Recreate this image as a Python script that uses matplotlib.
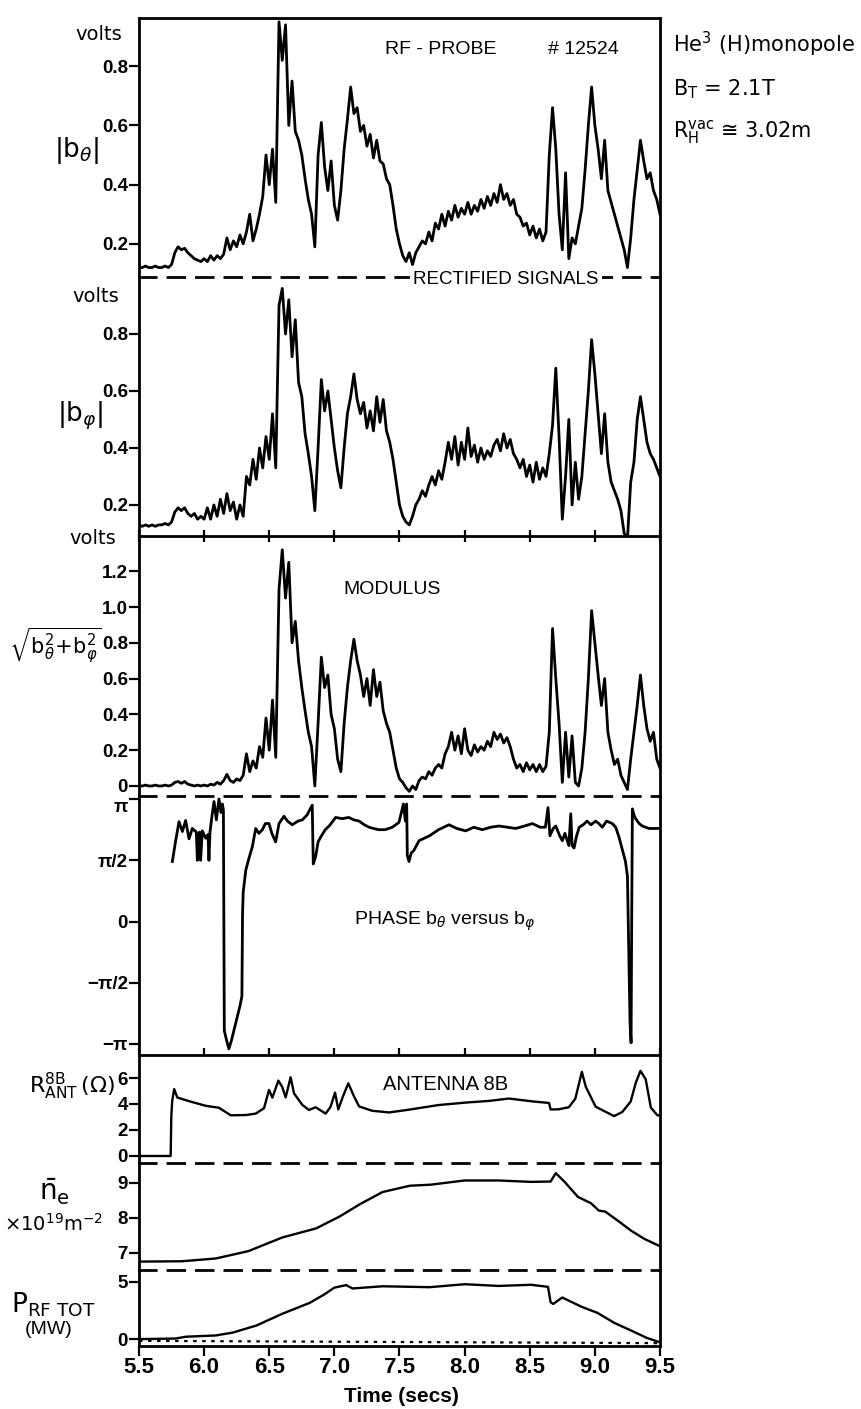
import numpy as np
import matplotlib
matplotlib.use('Agg')
import matplotlib.pyplot as plt

plt.rcParams['font.family'] = ['Liberation Sans', 'DejaVu Sans']
plt.rcParams['mathtext.fontset'] = 'dejavusans'
plt.rcParams['lines.scale_dashes'] = False

# rectified probe signals, one sample every 25 ms from 5.5 s to 9.5 s
t = np.linspace(5.5, 9.5, 161)

b_theta = [0.12, 0.12, 0.125, 0.12, 0.12, 0.125, 0.12, 0.12, 0.125, 0.12,
           0.13, 0.17, 0.19, 0.18, 0.185, 0.17, 0.16, 0.15, 0.145, 0.14,
           0.15, 0.14, 0.16, 0.145, 0.16, 0.15, 0.165, 0.22, 0.18, 0.21,
           0.19, 0.23, 0.2, 0.24, 0.3, 0.21, 0.25, 0.3, 0.36, 0.5,
           0.4, 0.52, 0.34, 0.95, 0.82, 0.94, 0.6, 0.75, 0.58, 0.55,
           0.5, 0.42, 0.35, 0.3, 0.19, 0.5, 0.61, 0.46, 0.38, 0.48,
           0.33, 0.28, 0.38, 0.52, 0.62, 0.73, 0.64, 0.66, 0.58, 0.6,
           0.53, 0.57, 0.49, 0.55, 0.48, 0.47, 0.42, 0.4, 0.33, 0.25,
           0.2, 0.16, 0.14, 0.17, 0.13, 0.17, 0.19, 0.21, 0.2, 0.24,
           0.21, 0.27, 0.25, 0.3, 0.26, 0.31, 0.28, 0.33, 0.29, 0.32,
           0.3, 0.34, 0.3, 0.33, 0.31, 0.35, 0.32, 0.36, 0.33, 0.37,
           0.34, 0.4, 0.35, 0.37, 0.33, 0.35, 0.3, 0.29, 0.26, 0.27,
           0.23, 0.26, 0.22, 0.25, 0.21, 0.24, 0.5, 0.66, 0.52, 0.3,
           0.18, 0.44, 0.15, 0.22, 0.2, 0.26, 0.32, 0.45, 0.6, 0.73,
           0.6, 0.52, 0.42, 0.55, 0.38, 0.34, 0.3, 0.26, 0.22, 0.18,
           0.12, 0.22, 0.35, 0.45, 0.55, 0.48, 0.42, 0.44, 0.38, 0.35, 0.3]

b_phi = [0.13, 0.125, 0.13, 0.125, 0.13, 0.125, 0.13, 0.13, 0.135, 0.13,
         0.14, 0.175, 0.19, 0.18, 0.19, 0.17, 0.16, 0.17, 0.15, 0.16,
         0.15, 0.19, 0.15, 0.2, 0.16, 0.22, 0.17, 0.24, 0.18, 0.21,
         0.15, 0.2, 0.16, 0.3, 0.27, 0.36, 0.29, 0.4, 0.33, 0.44,
         0.36, 0.52, 0.33, 0.9, 0.96, 0.8, 0.92, 0.72, 0.85, 0.63,
         0.58, 0.45, 0.38, 0.3, 0.18, 0.4, 0.64, 0.53, 0.6, 0.5,
         0.4, 0.32, 0.26, 0.4, 0.52, 0.58, 0.66, 0.57, 0.52, 0.56,
         0.47, 0.53, 0.46, 0.58, 0.49, 0.57, 0.46, 0.42, 0.36, 0.28,
         0.2, 0.16, 0.14, 0.13, 0.16, 0.2, 0.22, 0.25, 0.23, 0.27,
         0.3, 0.27, 0.32, 0.29, 0.35, 0.42, 0.36, 0.44, 0.34, 0.42,
         0.36, 0.47, 0.37, 0.41, 0.35, 0.4, 0.36, 0.39, 0.37, 0.41,
         0.43, 0.39, 0.45, 0.4, 0.43, 0.38, 0.36, 0.33, 0.36, 0.3,
         0.34, 0.28, 0.35, 0.29, 0.33, 0.3, 0.38, 0.48, 0.68, 0.44,
         0.15, 0.3, 0.5, 0.2, 0.35, 0.22, 0.3, 0.45, 0.6, 0.78,
         0.66, 0.52, 0.38, 0.52, 0.35, 0.28, 0.25, 0.22, 0.18, 0.1,
         0.08, 0.28, 0.35, 0.5, 0.58, 0.5, 0.42, 0.38, 0.36, 0.33, 0.3]

modulus = [0.0, 0.0, 0.005, 0.0, 0.0, 0.005, 0.0, 0.0, 0.005, 0.0,
           0.005, 0.02, 0.025, 0.015, 0.025, 0.01, 0.005, 0.0, 0.005, 0.0,
           0.005, 0.0, 0.01, 0.005, 0.02, 0.01, 0.03, 0.065, 0.03, 0.02,
           0.04, 0.03, 0.06, 0.18, 0.08, 0.14, 0.1, 0.22, 0.16, 0.38,
           0.2, 0.48, 0.16, 1.1, 1.32, 1.05, 1.25, 0.8, 0.92, 0.7,
           0.55, 0.42, 0.3, 0.22, 0.0, 0.35, 0.72, 0.55, 0.62, 0.4,
           0.32, 0.15, 0.08, 0.35, 0.55, 0.7, 0.82, 0.7, 0.62, 0.5,
           0.6, 0.45, 0.65, 0.5, 0.58, 0.42, 0.35, 0.3, 0.2, 0.1,
           0.04, 0.02, -0.01, -0.03, 0.0, -0.02, 0.03, 0.05, 0.04, 0.08,
           0.06, 0.1, 0.12, 0.1, 0.18, 0.22, 0.3, 0.2, 0.28, 0.18,
           0.32, 0.2, 0.17, 0.23, 0.19, 0.22, 0.2, 0.25, 0.22, 0.3,
           0.26, 0.29, 0.24, 0.27, 0.22, 0.15, 0.1, 0.12, 0.08, 0.13,
           0.09, 0.12, 0.08, 0.12, 0.08, 0.11, 0.3, 0.88, 0.6, 0.35,
           0.02, 0.3, 0.05, 0.28, 0.02, 0.0, 0.1, 0.3, 0.6, 0.98,
           0.8, 0.62, 0.45, 0.6, 0.3, 0.2, 0.12, 0.15, 0.06, 0.02,
           -0.02, 0.15, 0.3, 0.45, 0.62, 0.45, 0.32, 0.25, 0.3, 0.15, 0.1]

# phase of b_theta versus b_phi, in units of pi
phase_t = [5.756, 5.78, 5.807, 5.833, 5.858, 5.884, 5.909, 5.94, 5.948, 5.956,
           5.965, 5.973, 5.986, 6.012, 6.03, 6.037, 6.045, 6.06, 6.076, 6.094,
           6.114, 6.13, 6.14, 6.148, 6.155, 6.17, 6.19, 6.21, 6.24, 6.275,
           6.29, 6.295, 6.30, 6.32, 6.345, 6.37, 6.396, 6.42, 6.447, 6.47,
           6.498, 6.52, 6.549, 6.575, 6.613, 6.64, 6.677, 6.72, 6.754, 6.79,
           6.83, 6.838, 6.856, 6.875, 6.895, 6.93, 6.96, 7.01, 7.06, 7.11,
           7.15, 7.19, 7.23, 7.266, 7.30, 7.34, 7.39, 7.445, 7.496, 7.53,
           7.545, 7.555, 7.56, 7.573, 7.59, 7.61, 7.65, 7.69, 7.73, 7.80,
           7.88, 7.94, 8.008, 8.07, 8.136, 8.20, 8.264, 8.33, 8.392, 8.46,
           8.52, 8.58, 8.62, 8.64, 8.655, 8.68, 8.70, 8.73, 8.75, 8.77,
           8.80, 8.815, 8.825, 8.84, 8.86, 8.88, 8.91, 8.94, 8.97, 9.006,
           9.03, 9.057, 9.09, 9.134, 9.16, 9.185, 9.21, 9.235, 9.25, 9.26,
           9.27, 9.278, 9.283, 9.288, 9.30, 9.313, 9.34, 9.364, 9.415, 9.45,
           9.5]
phase_pi = [0.49, 0.65, 0.815, 0.735, 0.825, 0.675, 0.76, 0.73, 0.5, 0.71,
            0.73, 0.5, 0.74, 0.68, 0.71, 0.5, 0.73, 0.86, 0.98, 0.83,
            1.0, 0.89, 0.96, 0.91, -0.89, -0.96, -1.04, -0.97, -0.84, -0.69,
            -0.61, 0.06, 0.24, 0.42, 0.52, 0.61, 0.76, 0.72, 0.75, 0.8,
            0.8, 0.72, 0.65, 0.8, 0.86, 0.82, 0.79, 0.82, 0.83, 0.87,
            0.95, 0.47, 0.53, 0.65, 0.69, 0.75, 0.78, 0.85, 0.84, 0.85,
            0.83, 0.82, 0.79, 0.77, 0.76, 0.75, 0.75, 0.77, 0.81, 0.96,
            0.82, 0.96, 0.54, 0.49, 0.56, 0.58, 0.66, 0.68, 0.7, 0.75,
            0.79, 0.76, 0.74, 0.77, 0.75, 0.77, 0.78, 0.77, 0.76, 0.78,
            0.8, 0.77, 0.77, 0.93, 0.7, 0.76, 0.78, 0.7, 0.66, 0.72,
            0.62, 0.88, 0.62, 0.6, 0.7, 0.77, 0.79, 0.82, 0.79, 0.82,
            0.8, 0.77, 0.82, 0.8, 0.77, 0.69, 0.59, 0.49, 0.37, -0.23,
            -0.83, -0.99, 0.07, 0.92, 0.87, 0.84, 0.8, 0.78, 0.76, 0.76,
            0.76]

# antenna 8B resistance (ohm)
r_ant_t = [5.5, 5.743, 5.748, 5.755, 5.77, 5.794, 5.884, 6.012, 6.114, 6.204,
           6.32, 6.396, 6.46, 6.498, 6.524, 6.57, 6.6, 6.626, 6.664, 6.69,
           6.754, 6.805, 6.856, 6.933, 6.97, 7.005, 7.03, 7.066, 7.107, 7.15,
           7.19, 7.29, 7.42, 7.55, 7.8, 8.01, 8.19, 8.34, 8.52, 8.648,
           8.66, 8.72, 8.8, 8.85, 8.9, 8.93, 9.006, 9.11, 9.147, 9.21,
           9.275, 9.313, 9.35, 9.39, 9.43, 9.48, 9.5]
r_ant = [0.0, 0.0, 3.05, 4.25, 5.15, 4.5, 4.22, 3.86, 3.71, 3.13,
         3.15, 3.26, 3.68, 5.08, 4.49, 5.8, 5.3, 4.51, 6.06, 4.82,
         3.93, 3.54, 3.75, 3.26, 3.77, 4.88, 3.58, 4.59, 5.59, 4.6,
         3.81, 3.48, 3.35, 3.53, 3.92, 4.11, 4.24, 4.42, 4.2, 4.08,
         3.58, 3.59, 3.75, 4.41, 6.47, 5.33, 3.79, 3.26, 3.07, 3.38,
         4.19, 5.6, 6.55, 5.91, 3.72, 3.13, 3.13]

# line averaged density (10^19 m^-2)
ne_t = [5.5, 5.83, 6.09, 6.34, 6.6, 6.86, 7.04, 7.2, 7.37, 7.58,
        7.74, 8.0, 8.26, 8.51, 8.66, 8.7, 8.77, 8.87, 8.97, 9.03,
        9.08, 9.18, 9.28, 9.38, 9.5]
ne = [6.75, 6.76, 6.84, 7.05, 7.44, 7.70, 8.04, 8.40, 8.74, 8.92,
      8.95, 9.07, 9.07, 9.03, 9.04, 9.28, 9.02, 8.6, 8.42, 8.21,
      8.18, 7.91, 7.63, 7.40, 7.19]

# total RF power (MW) and the zero trace under it
prf_t = [5.5, 5.78, 5.86, 6.09, 6.22, 6.4, 6.6, 6.81, 6.92, 7.0,
         7.09, 7.14, 7.37, 7.73, 8.0, 8.26, 8.51, 8.64, 8.66, 8.68,
         8.75, 8.9, 9.02, 9.15, 9.28, 9.4, 9.48, 9.5]
prf = [0.0, 0.05, 0.21, 0.32, 0.57, 1.18, 2.21, 3.16, 3.88, 4.49,
       4.71, 4.42, 4.61, 4.53, 4.79, 4.64, 4.74, 4.56, 3.22, 3.07,
       3.63, 2.81, 2.29, 1.41, 0.74, 0.1, -0.2, -0.3]
prf_zero_t = [5.5, 9.5]
prf_zero = [-0.15, -0.35]

time_ticks = [5.5, 6.0, 6.5, 7.0, 7.5, 8.0, 8.5, 9.0, 9.5]
time_labels = ['5.5', '6.0', '6.5', '7.0', '7.5', '8.0', '8.5', '9.0', '9.5']
volt_ticks = [0.2, 0.4, 0.6, 0.8]
volt_labels = ['0.2', '0.4', '0.6', '0.8']
mod_ticks = [0, 0.2, 0.4, 0.6, 0.8, 1.0, 1.2]
mod_labels = ['0', '0.2', '0.4', '0.6', '0.8', '1.0', '1.2']
phase_ticks = [1, 0.5, 0, -0.5, -1]
phase_labels = ['π', 'π/2', '0', '−π/2', '−π']
r_ticks = [0, 2, 4, 6]
ne_ticks = [7, 8, 9]
prf_ticks = [0, 5]

W, H = 862, 1409
fig = plt.figure(figsize=(W / 100, H / 100), dpi=100)


def panel(top, bottom):
    ax = fig.add_axes([139 / W, 1 - bottom / H, 521 / W, (bottom - top) / H])
    ax.patch.set_visible(False)
    for s in ax.spines.values():
        s.set_linewidth(2)
    ax.spines['top'].set_visible(False)
    ax.set_xlim(5.5, 9.5)
    ax.set_xticks(time_ticks)
    ax.tick_params(axis='y', direction='out', length=7, width=1.6, pad=1,
                   labelsize=13.5)
    ax.tick_params(axis='x', bottom=False, labelbottom=False)
    return ax


def dashed_bottom(ax):
    ax.spines['bottom'].set_linestyle((0, (12, 8.5)))


def ticklabels_bold(ax):
    for lab in ax.get_yticklabels():
        lab.set_fontweight('bold')


def label(x, y, s, **kw):
    kw.setdefault('ha', 'center')
    kw.setdefault('va', 'center')
    return fig.text(x / W, 1 - y / H, s, **kw)


# |b_theta|
ax1 = panel(18, 277)
ax1.spines['top'].set_visible(True)
dashed_bottom(ax1)
ax1.plot(t, b_theta, color='k', lw=2)
ax1.set_ylim(0.088, 0.963)
ax1.set_yticks(volt_ticks, labels=volt_labels)
ticklabels_bold(ax1)

# |b_phi|
ax2 = panel(277, 536)
ax2.plot(t, b_phi, color='k', lw=2)
ax2.set_ylim(0.091, 1.0)
ax2.set_yticks(volt_ticks, labels=volt_labels)
ax2.tick_params(axis='x', bottom=True, direction='inout', length=9, width=1.6)
ticklabels_bold(ax2)

# modulus
ax3 = panel(536, 796)
dashed_bottom(ax3)
ax3.plot(t, modulus, color='k', lw=2)
ax3.set_ylim(-0.056, 1.397)
ax3.set_yticks(mod_ticks, labels=mod_labels)
ticklabels_bold(ax3)

# phase
ax4 = panel(796, 1055)
ax4.plot(phase_t, np.array(phase_pi) * np.pi, color='k', lw=2)
ax4.set_ylim(-1.09 * np.pi, 1.025 * np.pi)
ax4.set_yticks(np.array(phase_ticks) * np.pi, labels=phase_labels)
ax4.tick_params(axis='x', bottom=True, direction='in', length=5, width=1.6)
ticklabels_bold(ax4)
# keep the top label clear of the "0" of the panel above
ax4.get_yticklabels()[0].set_va('top')

# antenna resistance
ax5 = panel(1055, 1163)
dashed_bottom(ax5)
ax5.plot(r_ant_t, r_ant, color='k', lw=1.7)
ax5.set_ylim(-0.54, 7.77)
ax5.set_yticks(r_ticks, labels=[str(v) for v in r_ticks])
ticklabels_bold(ax5)

# density
ax6 = panel(1163, 1270)
dashed_bottom(ax6)
ax6.plot(ne_t, ne, color='k', lw=1.7)
ax6.set_ylim(6.51, 9.57)
ax6.set_yticks(ne_ticks, labels=[str(v) for v in ne_ticks])
ticklabels_bold(ax6)

# RF power
ax7 = panel(1270, 1346)
ax7.plot(prf_t, prf, color='k', lw=1.7)
ax7.plot(prf_zero_t, prf_zero, color='k', lw=1.6, ls=(0, (2.5, 4)))
ax7.set_ylim(-0.6, 6.03)
ax7.set_yticks(prf_ticks, labels=[str(v) for v in prf_ticks])
ax7.tick_params(axis='x', bottom=True, labelbottom=True, direction='out',
                length=7, width=1.6, pad=1)
ax7.set_xticklabels(time_labels, fontweight='bold', fontsize=16)
ticklabels_bold(ax7)

# units and axis names on the left
label(99, 35, 'volts', family='DejaVu Sans', fontsize=14)
label(96, 296, 'volts', family='DejaVu Sans', fontsize=14)
label(93, 538, 'volts', family='DejaVu Sans', fontsize=14)
label(77, 150, r'$|\mathrm{b}_{\theta}|$', fontsize=19)
label(80, 416, r'$|\mathrm{b}_{\varphi}|$', fontsize=19)
label(55, 646, r'$\sqrt{\mathrm{b}_{\theta}^{2}\!+\!\mathrm{b}_{\varphi}^{2}}$', fontsize=15)
label(72, 1086, r'$\mathrm{R}_{\mathrm{ANT}}^{\mathrm{8B}}\,(\Omega)$', fontsize=16)
label(54, 1192, r'$\bar{\mathrm{n}}_{\mathrm{e}}$', fontsize=20)
label(54, 1224, r'$\times10^{19}\mathrm{m}^{-2}$', fontsize=14)
label(53, 1305, r'$\mathrm{P}_{\mathrm{RF\ TOT}}$', fontsize=19)
label(49, 1330, '(MW)', fontsize=14)

# titles inside the panels
label(441, 50, 'RF - PROBE', fontsize=14)
label(583, 50, '# 12524', fontsize=14)
label(506, 280, 'RECTIFIED SIGNALS', fontsize=13.5,
      bbox=dict(facecolor='white', edgecolor='none', pad=2))
label(392, 589, 'MODULUS', fontsize=14)
label(445, 921, r'PHASE b$_{\theta}$ versus b$_{\varphi}$', fontsize=14)
label(446, 1084, 'ANTENNA 8B', fontsize=14.5)

# shot parameters
label(673, 44, r'He$^3$ (H)monopole', ha='left', family='DejaVu Sans', fontsize=15)
label(673, 89, r'B$_\mathrm{T}$ = 2.1T', ha='left', family='DejaVu Sans', fontsize=15)
label(673, 132, r'R$_\mathrm{H}^\mathrm{vac}$ ≅ 3.02m', ha='left',
      family='DejaVu Sans', fontsize=15)

label(401, 1397, 'Time (secs)', fontweight='bold', fontsize=15)

fig.savefig('out.png', dpi=100)
